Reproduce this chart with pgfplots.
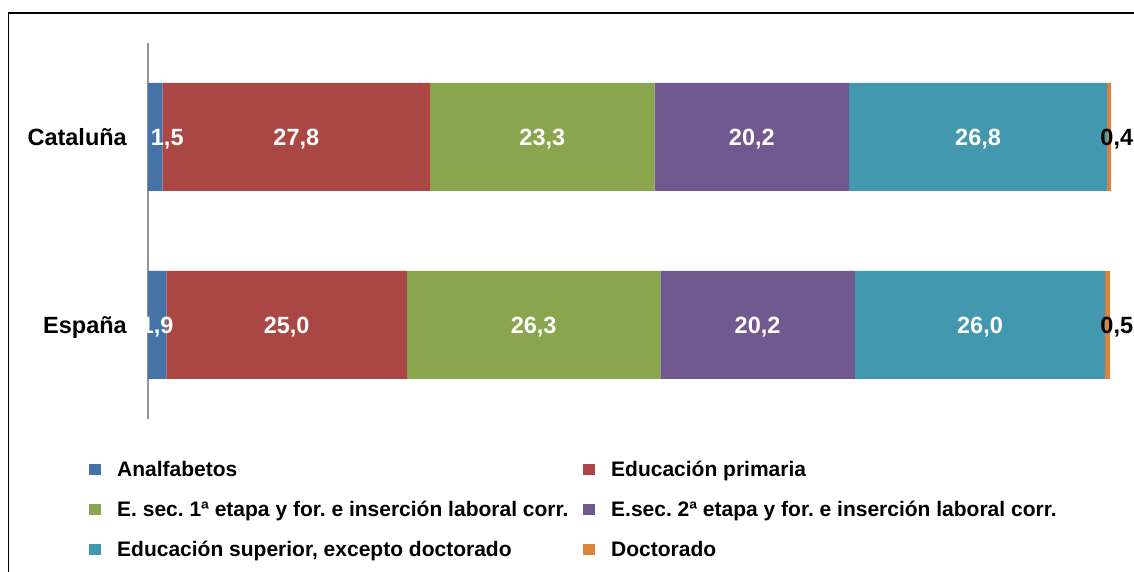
\documentclass[border=0pt]{standalone}
\usepackage{fontspec}
\setmainfont{Liberation Sans}
\usepackage{pgfplots}
\pgfplotsset{compat=1.18}
\definecolor{cA}{HTML}{4572A7}
\definecolor{cB}{HTML}{AA4643}
\definecolor{cC}{HTML}{89A54E}
\definecolor{cD}{HTML}{71588F}
\definecolor{cE}{HTML}{4198AF}
\definecolor{cF}{HTML}{DB843D}
\pgfplotsset{sq/.style={legend image code/.code={\fill[##1] (0pt,-5.75pt) rectangle (11.5pt,5.75pt);}}}
\newcommand{\lblfont}{\fontsize{23.5}{28}\selectfont\bfseries}
\frenchspacing
\begin{document}
\frenchspacing
\begin{tikzpicture}
\path[use as bounding box] (-148pt,-153pt) rectangle (986pt,419pt);
\draw[black, line width=1.6pt] (-139.5pt,406pt) -- (995pt,406pt);
\draw[black, line width=1.6pt] (-139.5pt,406.8pt) -- (-139.5pt,-160pt);
\begin{axis}[
  at={(0pt,0pt)}, anchor=south west,
  scale only axis, width=963pt, height=376pt,
  xmin=0, xmax=100, ymin=-0.5, ymax=1.5,
  xbar stacked, bar width=108pt,
  axis x line=none,
  axis y line*=left,
  y axis line style={draw=gray!85, line width=1.5pt, -},
  ytick={0,1}, yticklabels={España,Cataluña},
  major tick length=0pt,
  yticklabel style={font=\lblfont, inner sep=0pt, xshift=-21pt, anchor=east, text height=17pt, text depth=0pt},
  legend columns=2,
  legend style={at={(-0.0613,-0.1136)}, anchor=north west, draw=none, fill=none, inner sep=0pt,
    font=\fontsize{21}{25}\selectfont\bfseries\frenchspacing,
    nodes={inner sep=0pt, text height=15pt, text depth=0pt},
    row sep=25pt,
    /tikz/every odd column/.append style={column sep=16.5pt},
    /tikz/every even column/.append style={column sep=0pt}},
  legend cell align=left,
]
\addplot[fill=cA, draw=none, sq] coordinates {(1.9,0) (1.5,1)};
\addlegendentry{\makebox[466pt][l]{Analfabetos}}
\addplot[fill=cB, draw=none, sq] coordinates {(25.0,0) (27.8,1)};
\addlegendentry{Educación primaria}
\addplot[fill=cC, draw=none, sq] coordinates {(26.3,0) (23.3,1)};
\addlegendentry{\makebox[466pt][l]{E. sec. 1ª etapa y for. e inserción laboral corr.}}
\addplot[fill=cD, draw=none, sq] coordinates {(20.2,0) (20.2,1)};
\addlegendentry{E.sec. 2ª etapa y for. e inserción laboral corr.}
\addplot[fill=cE, draw=none, sq] coordinates {(26.0,0) (26.8,1)};
\addlegendentry{\makebox[466pt][l]{Educación superior, excepto doctorado}}
\addplot[fill=cF, draw=none, sq] coordinates {(0.5,0) (0.4,1)};
\addlegendentry{Doctorado}
\end{axis}
\begin{axis}[
  at={(0pt,0pt)}, anchor=south west,
  scale only axis, width=963pt, height=376pt,
  xmin=0, xmax=100, ymin=-0.5, ymax=1.5,
  hide axis, clip=false,
]
\addplot[draw=none, mark=none, nodes near coords, point meta=explicit symbolic,
  every node near coord/.style={anchor=center, text=white, font=\lblfont, inner sep=0pt, text height=17pt, text depth=0pt}]
  table[row sep=\\, meta=l] {x y l\\
  2.0 1 1,5\\ 15.4 1 27,8\\ 40.95 1 23,3\\ 62.7 1 20,2\\ 86.2 1 26,8\\
  0.95 0 1,9\\ 14.4 0 25,0\\ 40.05 0 26,3\\ 63.3 0 20,2\\ 86.4 0 26,0\\};
\addplot[draw=none, mark=none, nodes near coords, point meta=explicit symbolic,
  every node near coord/.style={anchor=center, text=black, font=\lblfont, inner sep=0pt, text height=17pt, text depth=0pt}]
  table[row sep=\\, meta=l] {x y l\\
  100.6 1 0,4\\ 100.6 0 0,5\\};
\end{axis}
\end{tikzpicture}
\end{document}
